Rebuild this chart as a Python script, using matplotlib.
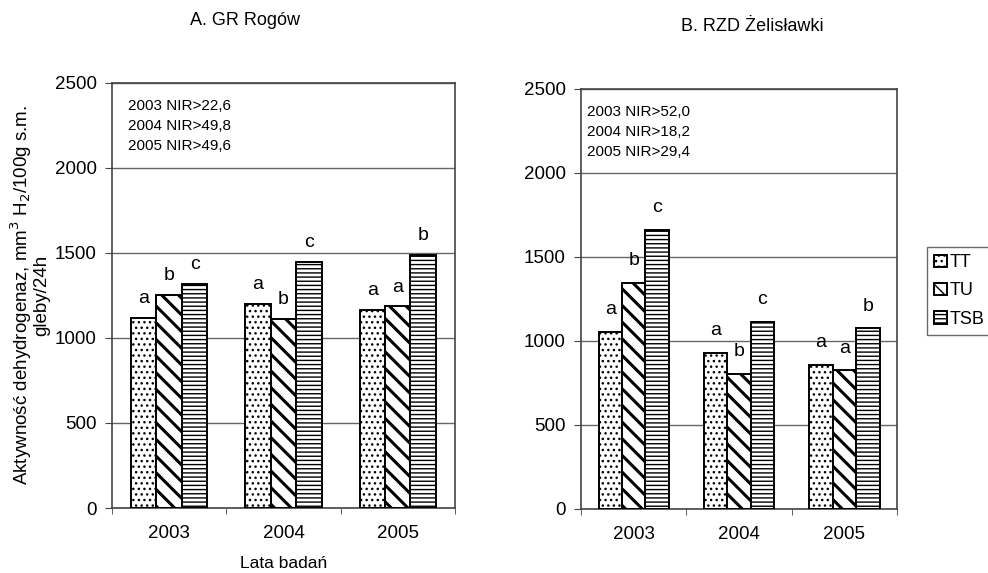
import numpy as np
import matplotlib.pyplot as plt

plt.rcParams['font.family'] = ['Liberation Sans', 'DejaVu Sans']

## Data
years = ['2003', '2004', '2005']
series = ['TT', 'TU', 'TSB']

rogow_tt  = [1120, 1200, 1165]
rogow_tu  = [1250, 1110, 1185]
rogow_tsb = [1320, 1445, 1490]
rogow_let = [['a', 'a', 'a'], ['b', 'b', 'a'], ['c', 'c', 'b']]
rogow_nir = ['2003 NIR>22,6', '2004 NIR>49,8', '2005 NIR>49,6']

zel_tt  = [1055, 930, 860]
zel_tu  = [1345, 805, 825]
zel_tsb = [1660, 1115, 1075]
zel_let = [['a', 'a', 'a'], ['b', 'b', 'a'], ['c', 'c', 'b']]
zel_nir = ['2003 NIR>52,0', '2004 NIR>18,2', '2005 NIR>29,4']

hatches = ['...', '\\\\', '----']
hatch_lw = [1.0, 2.2, 1.0]


def draw_panel(ax, values, letters, nir, title, title_x, nir_x, let_off):
    x = np.arange(len(years))
    w = 0.222
    handles = []
    for i, vals in enumerate(values):
        bars = ax.bar(x + (i - 1) * w, vals, w, color='white', edgecolor='black',
                      linewidth=1.4, hatch=hatches[i], label=series[i], zorder=3)
        for b in bars:
            if hasattr(b, 'set_hatch_linewidth'):
                b.set_hatch_linewidth(hatch_lw[i])
        handles.append(bars)
        for j, v in enumerate(vals):
            ax.annotate(letters[i][j], (x[j] + (i - 1) * w, v), xytext=(0, let_off),
                        textcoords='offset points', ha='center', va='center',
                        fontsize=14)

    ax.set_xlim(-0.5, 2.5)
    ax.set_ylim(0, 2500)
    ax.set_yticks(np.arange(0, 2501, 500))
    ax.set_xticks(x)
    ax.set_xticklabels(years)
    ax.set_xticks([-0.5, 0.5, 1.5, 2.5], minor=True)
    ax.tick_params(axis='x', which='major', length=0, pad=12, labelsize=13.5)
    ax.tick_params(axis='x', which='minor', length=4, direction='out', color='#444444')
    ax.tick_params(axis='y', length=5, direction='out', pad=6, labelsize=13.5, color='#444444')
    ax.grid(axis='y', color='#666666', linewidth=1, zorder=0)
    for s in ax.spines.values():
        s.set_color('#444444')
        s.set_linewidth(1.2)

    ax.text(nir_x, 0.962, '\n'.join(nir), transform=ax.transAxes, ha='left', va='top',
            fontsize=11, linespacing=1.55)
    ax.set_title(title, x=title_x, pad=42, fontsize=13)
    return handles


fig = plt.figure(figsize=(9.88, 5.73), dpi=100)
ax1 = fig.add_axes([0.1134, 0.1134, 0.347, 0.742])
ax2 = fig.add_axes([0.588, 0.1117, 0.320, 0.733])

draw_panel(ax1, [rogow_tt, rogow_tu, rogow_tsb], rogow_let, rogow_nir,
           'A. GR Rogów', 0.388, 0.047, 14)
h = draw_panel(ax2, [zel_tt, zel_tu, zel_tsb], zel_let, zel_nir,
               'B. RZD Żelisławki', 0.541, 0.02, 16)

ax1.set_ylabel('Aktywność dehydrogenaz, mm$^3$ H$_2$/100g s.m.\ngleby/24h',
               fontsize=13.5, linespacing=1.0, labelpad=3)
ax1.set_xlabel('Lata badań', fontsize=12.5, labelpad=10)

leg = fig.legend(h, series, loc='upper left', bbox_to_anchor=(927 / 988, 1 - 247 / 573),
                 fontsize=13, handlelength=0.7, handleheight=0.7, handletextpad=0.15,
                 labelspacing=0.62, borderpad=0.4, borderaxespad=0, frameon=True,
                 fancybox=False, edgecolor='#444444')
for p in leg.get_patches():
    p.set_linewidth(1.4)

plt.savefig('out.png', dpi=100)
plt.close()
